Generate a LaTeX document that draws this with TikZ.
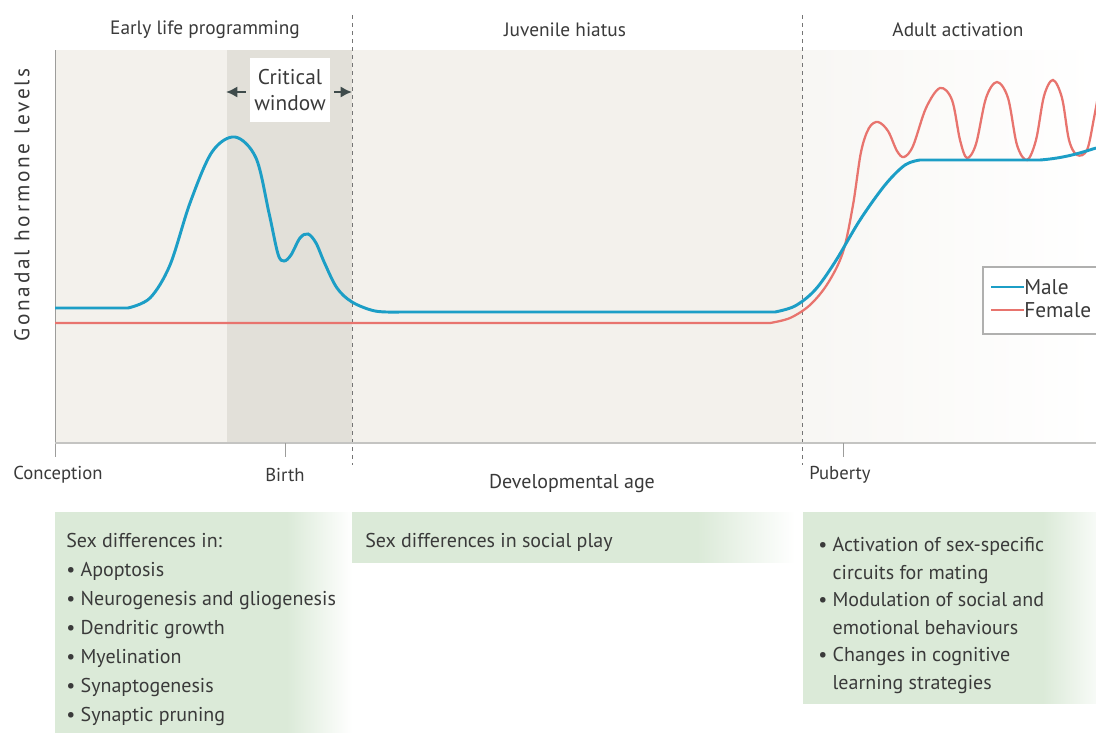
\documentclass[tikz,border=0pt]{standalone}
\usepackage{fontspec}
\setmainfont{PT Sans}
\usetikzlibrary{arrows.meta,positioning}
\definecolor{HormBlue}{HTML}{1C9EC6}
\definecolor{HormRed}{HTML}{E8746E}
\definecolor{HormInk}{HTML}{3A3A3A}
\definecolor{HormArrow}{HTML}{3E4B4B}
\definecolor{HormGrey}{HTML}{C4C4C2}
\definecolor{HormBeige}{HTML}{F3F1EC}
\definecolor{HormShade}{HTML}{E2E0D9}
\definecolor{HormGreen}{HTML}{DBEAD8}
\pgfdeclarehorizontalshading{greenfade}{100bp}{color(0bp)=(HormGreen);
  color(64bp)=(HormGreen); color(75bp)=(white); color(100bp)=(white)}
\tikzset{
  >={Latex[length=2.2mm]},
  axis/.style={draw=HormGrey,line width=2.2pt},
  tick/.style={draw=HormGrey!80!black,line width=0.6pt},
  divider/.style={draw=HormInk!70,dashed,line width=0.5pt},
  malecurve/.style={draw=HormBlue,line width=2.2pt},
  femalecurve/.style={draw=HormRed,line width=1.7pt},
  panel/.style={shading=greenfade},
  phase/.style={text=HormInk,font=\fontsize{14.5}{17}\selectfont},
  agelabel/.style={text=HormInk,font=\fontsize{14}{17}\selectfont},
  listtext/.style={text=HormInk,align=left,inner sep=0pt,
    font=\fontsize{15}{21.75}\selectfont},
  winarrow/.style={-{Latex[length=3mm,width=3mm]},draw=HormArrow,line width=1.8pt}
}

\begin{document}
\begin{tikzpicture}[x=0.75pt,y=-0.75pt]
  \useasboundingbox (0,0) rectangle (1096,732);
  \fill[white] (0,0) rectangle (1096,732);

  \fill[HormBeige] (55,50) rectangle (802,443);
  \fill[HormShade] (227,50) rectangle (352,443);
  \shade[left color=HormBeige!60,right color=white] (802,50) rectangle (1096,443);

  \shade[panel] (55,512) rectangle (352,740);
  \shade[panel] (352,512) rectangle (795,562);
  \shade[panel] (803,512) rectangle (1110,703);

  \draw[divider] (352,15) -- (352,465);
  \draw[divider] (802,15) -- (802,465);
  \draw[tick] (55,50) -- (55,457);
  \draw[axis] (55,443) -- (1096,443);
  \draw[tick] (285,443) -- (285,457);
  \draw[tick] (843,443) -- (843,457);

  \node[phase] (early) at (205,30) {Early life programming};
  \node[phase] (hiatus) at (565,30) {Juvenile hiatus};
  \node[phase] (adult) at (958,30) {Adult activation};
  \node[phase,rotate=90,font=\fontsize{16}{17}\selectfont\addfontfeature{LetterSpace=13}]
    (ylab) at (22,205) {Gonadal hormone levels};

  \node[fill=white,text=HormInk,align=center,inner sep=3pt,minimum width=80*0.75pt,
    minimum height=64*0.75pt,font=\fontsize{16}{20}\selectfont] (window) at (290,90)
    {Critical\\window};
  \coordinate (winL) at (226,92);
  \coordinate (winR) at (352,92);
  \draw[winarrow] (window.west) ++(-4,2) -- (winL);
  \draw[winarrow] (window.east) ++(4,2) -- (winR);

  \draw[femalecurve] (55,323) -- (770,323)
    plot[smooth,tension=0.55] coordinates {(770,323) (790,318) (810,305) (828,283)
      (843,252) (853,205) (861,152) (869,128) (878,122) (888,131) (897,151)
      (904,157) (913,146) (926,108) (940,88) (952,100) (960,140) (967,158)
      (976,144) (986,98) (997,82) (1008,98) (1017,145) (1027,160) (1036,140)
      (1044,96) (1053,80) (1062,98) (1069,140) (1077,155) (1087,150)
      (1094,118) (1100,85)};

  \draw[malecurve] (55,308) -- (128,308)
    plot[smooth,tension=0.55] coordinates {(128,308) (150,298) (170,265)
      (190,203) (212,152) (235,137) (256,158) (269,213) (278,254) (284,261)
      (291,255) (300,238) (308,234) (316,243) (325,264) (337,288) (352,302)
      (375,311) (400,312)}
    -- (775,312)
    plot[smooth,tension=0.55] coordinates {(775,312) (795,306) (815,290)
      (835,262) (860,220) (885,185) (905,165) (920,160)}
    -- (1040,160) .. controls (1065,158) and (1080,153) .. (1096,148);

  \draw[draw=HormGrey!90!black,fill=white,line width=0.8pt] (983,267) rectangle (1110,334);
  \coordinate (maleA) at (991,287);
  \coordinate (femaleA) at (991,310);
  \node[agelabel,anchor=west,inner sep=0pt,font=\fontsize{16}{17}\selectfont]
    (male) at (1024,287) {Male};
  \node[agelabel,anchor=west,inner sep=0pt,font=\fontsize{16}{17}\selectfont]
    (female) at (1024,310) {Female};
  \draw[malecurve] (maleA) -- (male.west);
  \draw[femalecurve] (femaleA) -- (female.west);

  \node[agelabel] (concep) at (58,475) {Conception};
  \node[agelabel] (birth) at (285,475) {Birth};
  \node[agelabel,font=\fontsize{15}{17}\selectfont] (devage) at (572,484) {Developmental age};
  \node[agelabel] (puberty) at (840,475) {Puberty};

  \node[listtext,anchor=north west] (early list) at (66,533)
    {Sex differences in:\\
     \textbullet\ Apoptosis\\
     \textbullet\ Neurogenesis and gliogenesis\\
     \textbullet\ Dendritic growth\\
     \textbullet\ Myelination\\
     \textbullet\ Synaptogenesis\\
     \textbullet\ Synaptic pruning};
  \node[listtext,anchor=north west] (play) at (365,533) {Sex differences in social play};
  \node[listtext,anchor=north west,font=\fontsize{15}{20.7}\selectfont] (adult list) at (818,537)
    {\textbullet\ Activation of sex-specific\\
     \hphantom{\textbullet\ }circuits for mating\\
     \textbullet\ Modulation of social and\\
     \hphantom{\textbullet\ }emotional behaviours\\
     \textbullet\ Changes in cognitive\\
     \hphantom{\textbullet\ }learning strategies};
\end{tikzpicture}
\end{document}
